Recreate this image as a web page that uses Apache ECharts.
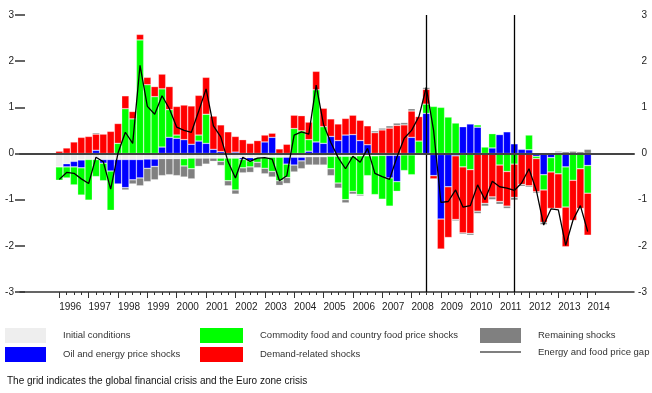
<!DOCTYPE html>
<html>
<head>
<meta charset="utf-8">
<script src="https://cdn.jsdelivr.net/npm/echarts@6/dist/echarts.min.js"></script>
<style>
  html, body { margin: 0; padding: 0; background: #ffffff; }
  #chart { width: 652px; height: 393px; }
</style>
</head>
<body>
<div id="chart"></div>
<script>
// Quarterly historical decomposition of the energy and food price gap, 1996Q1-2014Q1
const years = [1996, 1997, 1998, 1999, 2000, 2001, 2002, 2003, 2004, 2005, 2006, 2007, 2008, 2009, 2010, 2011, 2012, 2013, 2014];
const quarters = ['Q1', 'Q2', 'Q3', 'Q4'];

const initialConditions = [
  -0.29, -0.22, -0.17, -0.14, -0.13, -0.13, -0.13, -0.13, -0.13, -0.13, -0.13, -0.13, -0.12, -0.12, -0.11, -0.11, -0.11, -0.11, -0.10, -0.10,
  -0.10, -0.10, -0.10, -0.10, -0.10, -0.09, -0.09, -0.09, -0.09, -0.08, -0.08, -0.08, -0.08, -0.08, -0.07, -0.07, -0.07, -0.06, -0.06, -0.06,
  -0.06, -0.05, -0.05, -0.05, -0.04, -0.04, -0.04, -0.03, -0.03, -0.03, -0.02, -0.02, -0.02, -0.02, -0.02, -0.02, -0.01, -0.01, -0.01, -0.01,
  -0.01, -0.01, -0.01, -0.01, -0.01, -0.01, -0.01, -0.01, -0.01, -0.01, -0.01, -0.01, -0.01
];
const oilEnergy = [
  0, -0.07, -0.12, -0.17, 0, 0.07, -0.08, -0.25, -0.53, -0.61, -0.44, -0.40, -0.20, -0.16, 0.14, 0.35, 0.33, 0.30, 0.20, 0.27,
  0.22, 0.09, 0.04, 0, 0.03, -0.04, -0.07, 0, 0.25, 0.35, 0, -0.15, -0.17, -0.08, 0.05, 0.25, 0.22, 0.37, 0.28, 0.40,
  0.41, 0.28, 0.19, 0, 0, -0.49, -0.57, 0, 0.35, 0, 0.87, -0.46, -1.40, -0.70, -0.03, 0.58, 0.64, 0.57, 0, 0.12,
  0.41, 0.47, 0.21, 0.09, 0.08, -0.05, -0.45, -0.08, 0.02, -0.28, 0, 0, -0.25
];
const commodityFood = [
  -0.29, -0.24, -0.39, -0.59, -0.88, -0.37, -0.38, -0.85, 0.22, 0.97, 0.75, 2.46, 1.49, 1.23, 1.26, 0.60, 0.07, -0.16, -0.23, 0.13,
  0.63, 0, -0.07, -0.49, -0.69, -0.18, -0.13, -0.10, -0.23, -0.31, -0.51, -0.29, 0.54, 0.49, 0.25, 1.13, 0.36, -0.27, -0.58, -0.94,
  -0.76, -0.84, -0.43, -0.84, -0.95, -0.61, -0.21, -0.34, -0.43, 0.27, 0.20, 1.02, 1.00, 0.79, 0.66, -0.27, -0.34, 0.05, 0.14, 0.31,
  -0.24, -0.38, -0.22, 0, 0.32, -0.05, -0.33, -0.31, -0.43, -0.87, -0.57, -0.32, -0.60
];
const demandRelated = [
  0.05, 0.12, 0.25, 0.35, 0.37, 0.35, 0.42, 0.48, 0.43, 0.28, 0.16, 0.12, 0.16, 0.22, 0.32, 0.50, 0.62, 0.75, 0.83, 0.86,
  0.80, 0.72, 0.58, 0.47, 0.34, 0.30, 0.22, 0.28, 0.15, 0.09, 0.10, 0.20, 0.29, 0.33, 0.38, 0.40, 0.40, 0.38, 0.36, 0.36,
  0.42, 0.44, 0.41, 0.45, 0.51, 0.55, 0.61, 0.62, 0.57, 0.53, 0.32, -0.07, -0.65, -1.10, -1.38, -1.43, -1.38, -1.24, -1.07, -0.93,
  -0.79, -0.75, -0.72, -0.66, -0.69, -0.72, -0.70, -0.79, -0.75, -0.86, -0.87, -0.86, -0.91
];
const remainingShocks = [
  0, 0, 0, 0, 0, 0.03, 0, 0, 0, -0.05, -0.09, -0.17, -0.29, -0.29, -0.37, -0.35, -0.37, -0.24, -0.22, -0.18,
  -0.13, -0.07, -0.09, -0.11, -0.09, -0.11, -0.12, -0.12, -0.12, -0.12, -0.10, -0.13, -0.15, -0.17, -0.18, -0.18, -0.18, -0.15, -0.11, -0.07,
  -0.06, -0.03, 0, 0.04, 0.04, 0.05, 0.05, 0.05, 0.05, 0, 0.04, 0, 0, 0, -0.03, -0.03, -0.04, -0.05, -0.06, -0.06,
  -0.06, -0.05, -0.06, -0.04, -0.03, -0.03, -0.05, -0.02, 0.03, 0.04, 0.05, 0.04, 0.09
];
const priceGap = [
  -0.56, -0.41, -0.43, -0.55, -0.65, -0.08, -0.18, -0.77, 0.01, 0.46, 0.22, 1.91, 1.02, 0.85, 1.25, 0.97, 0.57, 0.50, 0.46, 0.92,
  1.40, 0.60, 0.36, -0.18, -0.53, -0.08, -0.17, -0.10, -0.09, -0.12, -0.59, -0.48, 0.40, 0.47, 0.42, 1.48, 0.63, 0.24, -0.09, -0.33,
  -0.06, -0.19, 0.11, -0.43, -0.50, -0.56, -0.08, 0.33, 0.50, 0.80, 1.43, 0.50, -1.06, -1.04, -0.79, -1.16, -1.13, -0.68, -1.00, -0.60,
  -0.72, -0.75, -0.80, -0.64, -0.33, -0.80, -1.55, -1.20, -1.22, -1.99, -1.44, -1.13, -1.69
];
const crisisQuarters = ['2008Q3', '2011Q3'];
const yTicks = [-3, -2, -1, 0, 1, 2, 3];

// quarter categories, plus one trailing empty quarter that only carries a tick
const categories = [];
years.forEach(y => quarters.forEach(q => categories.push(y + q)));
const usedCategories = categories.slice(0, 74);

const FONT = "'Liberation Sans', Arial, sans-serif";
const slot = 7.339;               // pixel width of one quarter
const plotLeft = 59.3 - slot / 2; // left edge of the first quarter

const clean = arr => arr.map(v => (v === 0 ? null : v));

const barStyle = color => ({
  color: color,
  borderColor: 'rgba(255,255,255,0.45)',
  borderWidth: 0.6
});

const barSeries = [
  ['Initial conditions', initialConditions, '#eeeeee'],
  ['Oil and energy price shocks', oilEnergy, '#0000ff'],
  ['Commodity food and country food price shocks', commodityFood, '#00ff00'],
  ['Demand-related shocks', demandRelated, '#ff0000'],
  ['Remaining shocks', remainingShocks, '#808080']
].map(([name, values, color]) => ({
  name: name,
  type: 'bar',
  stack: 'decomp',
  xAxisIndex: 0,
  yAxisIndex: 0,
  barCategoryGap: '0%',
  itemStyle: barStyle(color),
  data: clean(values),
  silent: true
}));

const chart = echarts.init(document.getElementById('chart'), null, { renderer: 'canvas' });

const legendBase = {
  orient: 'vertical',
  top: 328,
  padding: 0,
  itemWidth: 41,
  itemHeight: 15,
  itemGap: 4,
  icon: 'rect',
  selectedMode: false,
  itemStyle: { borderWidth: 0 },
  textStyle: { fontFamily: FONT, fontSize: 9.5, color: '#333333', padding: [0, 0, 0, 12] }
};

chart.setOption({
  animation: false,
  backgroundColor: '#ffffff',
  title: {
    text: 'The grid indicates the global financial crisis and the Euro zone crisis',
    left: 7,
    top: 376,
    padding: 0,
    textStyle: { fontFamily: FONT, fontSize: 10, fontWeight: 'normal', color: '#111111' }
  },
  legend: [
    Object.assign({}, legendBase, { left: 5, data: ['Initial conditions', 'Oil and energy price shocks'] }),
    Object.assign({}, legendBase, { left: 200, itemWidth: 43, data: ['Commodity food and country food price shocks', 'Demand-related shocks'] }),
    Object.assign({}, legendBase, { left: 480, data: ['Remaining shocks', { name: 'Energy and food price gap', icon: 'path://M0,7 L41,7 L41,8 L0,8 Z' }] })
  ],
  grid: [
    { left: plotLeft, width: slot * 74, top: 15, height: 277 },
    { left: 20, width: 614, top: 15, height: 277 }
  ],
  xAxis: [
    {
      gridIndex: 0, type: 'category', data: usedCategories, boundaryGap: true, position: 'bottom',
      axisLine: { show: false, onZero: false },
      axisTick: { show: true, alignWithLabel: true, interval: 0, length: 3, lineStyle: { color: '#333333', width: 1 } },
      axisLabel: {
        interval: (i, v) => v.endsWith('Q2'),
        formatter: v => v.slice(0, 4),
        padding: [0, 0, 0, slot],
        margin: 10,
        fontFamily: FONT, fontSize: 10, color: '#222222'
      },
      splitLine: { show: false }
    },
    {
      gridIndex: 0, type: 'category', data: usedCategories, boundaryGap: true, position: 'bottom',
      axisLine: { show: false, onZero: false },
      axisTick: { show: true, alignWithLabel: true, interval: (i, v) => v.endsWith('Q1'), length: 6, lineStyle: { color: '#333333', width: 1 } },
      axisLabel: { show: false },
      splitLine: { show: false }
    },
    {
      gridIndex: 1, type: 'value', min: 0, max: 1, position: 'bottom',
      axisLine: { show: true, onZero: false, lineStyle: { color: '#333333', width: 1.5 } },
      axisTick: { show: false }, axisLabel: { show: false }, splitLine: { show: false }
    },
    {
      gridIndex: 1, type: 'value', min: 0, max: 1, position: 'bottom', z: 6,
      axisLine: { show: true, onZero: true, onZeroAxisIndex: 1, lineStyle: { color: '#444444', width: 2 } },
      axisTick: { show: false }, axisLabel: { show: false }, splitLine: { show: false }
    }
  ],
  yAxis: [
    { gridIndex: 0, type: 'value', min: -3, max: 3, show: false },
    {
      gridIndex: 1, type: 'value', position: 'left', min: yTicks[0], max: yTicks[yTicks.length - 1], interval: 1,
      axisLine: { show: false },
      axisTick: { show: true, inside: true, length: 5, lineStyle: { color: '#333333', width: 1.5 } },
      axisLabel: { margin: 6, fontFamily: FONT, fontSize: 10, color: '#222222' },
      splitLine: { show: false }
    },
    {
      gridIndex: 1, type: 'value', position: 'right', min: yTicks[0], max: yTicks[yTicks.length - 1], interval: 1,
      axisLine: { show: false },
      axisTick: { show: true, inside: true, length: 5, lineStyle: { color: '#333333', width: 1.5 } },
      axisLabel: { margin: 13, align: 'right', fontFamily: FONT, fontSize: 10, color: '#222222' },
      splitLine: { show: false }
    }
  ],
  series: barSeries.concat([{
    name: 'Energy and food price gap',
    type: 'line',
    xAxisIndex: 0,
    yAxisIndex: 0,
    z: 10,
    symbol: 'none',
    silent: true,
    itemStyle: { color: '#000000' },
    lineStyle: { color: '#000000', width: 1.3 },
    data: priceGap,
    markLine: {
      silent: true,
      symbol: 'none',
      label: { show: false },
      lineStyle: { color: '#000000', width: 1.3, type: 'solid' },
      data: crisisQuarters.map(q => ({ xAxis: q }))
    }
  }])
});
</script>
</body>
</html>
